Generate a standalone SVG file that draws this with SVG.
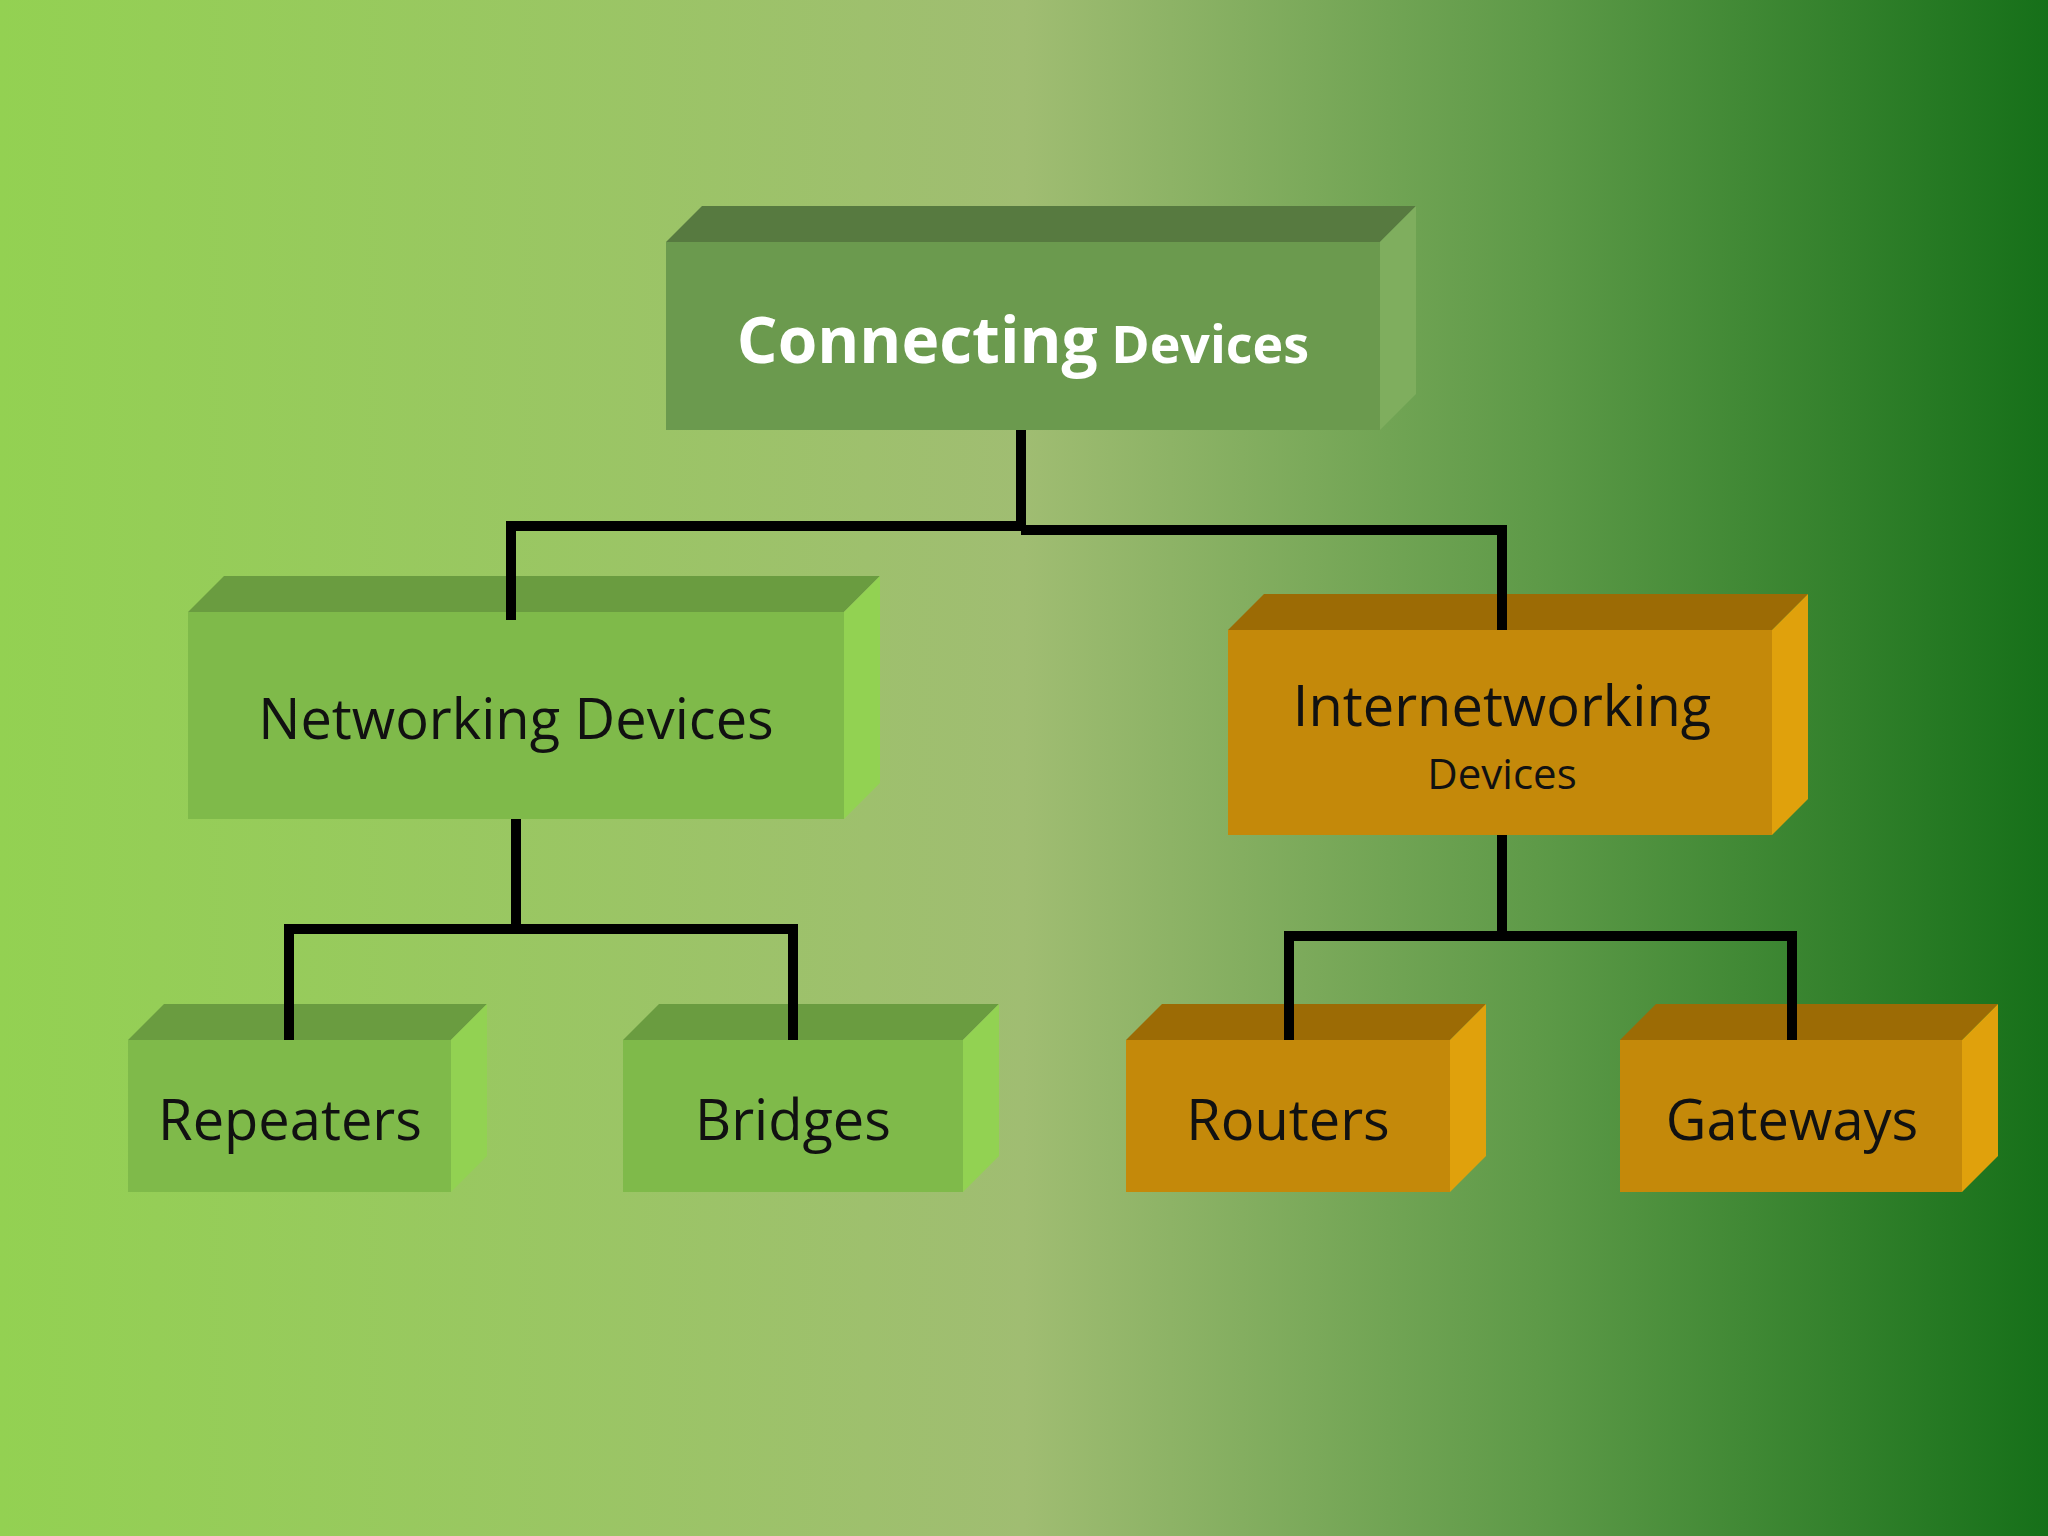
<svg xmlns="http://www.w3.org/2000/svg" width="2048" height="1536" viewBox="0 0 2048 1536">
<defs>
<linearGradient id="bg" x1="0" y1="0" x2="1" y2="0">
<stop offset="0" stop-color="#93d152"/>
<stop offset="0.5" stop-color="#a0bd72"/>
<stop offset="0.75" stop-color="#5e9a48"/>
<stop offset="1" stop-color="#167019"/>
</linearGradient>
</defs>
<style>
.gf{fill:#7fba4a}.gt{fill:#6a9c40}.gs{fill:#92d252}
.of{fill:#c4890a}.ot{fill:#9c6b05}.os{fill:#e0a10c}
.t{font-family:"Open Sans","DejaVu Sans",sans-serif;fill:#111;text-anchor:middle}
.c{fill:none;stroke:#000;stroke-width:10}
</style>
<rect width="2048" height="1536" fill="url(#bg)"/>
<g id="top">
<polygon points="666,242 702,206 1416,206 1380,242" fill="#577a40"/>
<polygon points="1380,242 1416,206 1416,394 1380,430" fill="#7fae5e"/>
<rect x="666" y="242" width="714" height="188" fill="#6b9a4e"/>
<text x="1023" y="363" style="font-family:'Open Sans','DejaVu Sans',sans-serif;font-weight:bold;fill:#fff;text-anchor:middle"><tspan font-size="64">Connecting</tspan><tspan font-size="52"> Devices</tspan></text>
</g>
<g id="networking">
<polygon class="gt" points="188,612 224,576 880,576 844,612"/>
<polygon class="gs" points="844,612 880,576 880,783 844,819"/>
<rect class="gf" x="188" y="612" width="656" height="207"/>
<text class="t" x="516" y="739" font-size="56">Networking Devices</text>
</g>
<g id="internetworking">
<polygon class="ot" points="1228,630 1264,594 1808,594 1772,630"/>
<polygon class="os" points="1772,630 1808,594 1808,799 1772,835"/>
<rect class="of" x="1228" y="630" width="544" height="205"/>
<text class="t" x="1502" y="726" font-size="56">Internetworking</text>
<text class="t" x="1502" y="789" font-size="42">Devices</text>
</g>
<g id="repeaters">
<polygon class="gt" points="128,1040 164,1004 487,1004 451,1040"/>
<polygon class="gs" points="451,1040 487,1004 487,1156 451,1192"/>
<rect class="gf" x="128" y="1040" width="323" height="152"/>
<text class="t" x="290" y="1140" font-size="56">Repeaters</text>
</g>
<g id="bridges">
<polygon class="gt" points="623,1040 659,1004 999,1004 963,1040"/>
<polygon class="gs" points="963,1040 999,1004 999,1156 963,1192"/>
<rect class="gf" x="623" y="1040" width="340" height="152"/>
<text class="t" x="793" y="1140" font-size="56">Bridges</text>
</g>
<g id="routers">
<polygon class="ot" points="1126,1040 1162,1004 1486,1004 1450,1040"/>
<polygon class="os" points="1450,1040 1486,1004 1486,1156 1450,1192"/>
<rect class="of" x="1126" y="1040" width="324" height="152"/>
<text class="t" x="1288" y="1140" font-size="56">Routers</text>
</g>
<g id="gateways">
<polygon class="ot" points="1620,1040 1656,1004 1998,1004 1962,1040"/>
<polygon class="os" points="1962,1040 1998,1004 1998,1156 1962,1192"/>
<rect class="of" x="1620" y="1040" width="342" height="152"/>
<text class="t" x="1792" y="1140" font-size="56">Gateways</text>
</g>
<g id="connectors">
<polyline class="c" points="1021,430 1021,528"/>
<polyline class="c" points="511,620 511,526 1021,526"/>
<polyline class="c" points="1021,530 1502,530 1502,630"/>
<polyline class="c" points="516,819 516,929"/>
<polyline class="c" points="289,1040 289,929 793,929 793,1040"/>
<polyline class="c" points="1502,835 1502,936"/>
<polyline class="c" points="1289,1040 1289,936 1792,936 1792,1040"/>
</g>
</svg>
